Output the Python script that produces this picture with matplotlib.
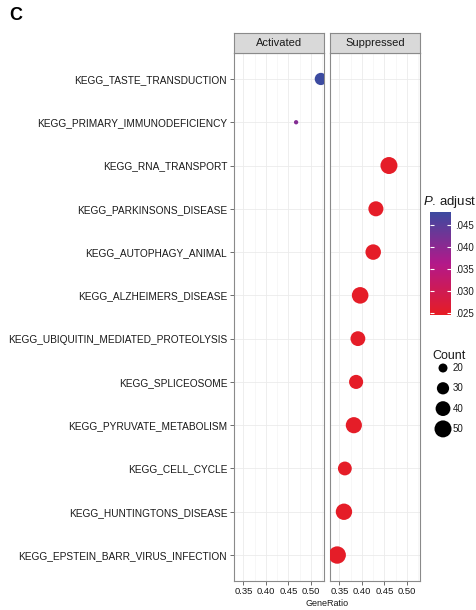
import matplotlib.pyplot as plt
import numpy as np
from matplotlib.colors import LinearSegmentedColormap, Normalize

plt.rcParams['font.family'] = ['Liberation Sans', 'DejaVu Sans']
plt.rcParams['mathtext.fontset'] = 'custom'
plt.rcParams['mathtext.it'] = 'Liberation Sans:italic'
plt.rcParams['mathtext.rm'] = 'Liberation Sans'

# KEGG pathways, top to bottom
pathways = [
    'KEGG_TASTE_TRANSDUCTION',
    'KEGG_PRIMARY_IMMUNODEFICIENCY',
    'KEGG_RNA_TRANSPORT',
    'KEGG_PARKINSONS_DISEASE',
    'KEGG_AUTOPHAGY_ANIMAL',
    'KEGG_ALZHEIMERS_DISEASE',
    'KEGG_UBIQUITIN_MEDIATED_PROTEOLYSIS',
    'KEGG_SPLICEOSOME',
    'KEGG_PYRUVATE_METABOLISM',
    'KEGG_CELL_CYCLE',
    'KEGG_HUNTINGTONS_DISEASE',
    'KEGG_EPSTEIN_BARR_VIRUS_INFECTION',
]
groups = ['Activated', 'Activated'] + ['Suppressed'] * 10
gene_ratio = [0.522, 0.467, 0.460, 0.431, 0.425, 0.396, 0.391, 0.387,
              0.382, 0.362, 0.360, 0.345]
counts = [30, 11, 50, 41, 43, 48, 40, 37, 46, 36, 47, 52]
p_adjust = [0.048, 0.041, 0.025, 0.025, 0.025, 0.025, 0.025, 0.025,
            0.025, 0.025, 0.025, 0.025]

facets = ['Activated', 'Suppressed']
x_ticks = [0.35, 0.40, 0.45, 0.50]
x_minor = [0.375, 0.425, 0.475, 0.525]
cbar_ticks = [0.025, 0.030, 0.035, 0.040, 0.045]
cbar_labels = ['.025', '.030', '.035', '.040', '.045']
legend_counts = [20, 30, 40, 50]

W, H = 477, 610
p_min, p_max = 0.0245, 0.048
cmap = LinearSegmentedColormap.from_list(
    'padj', ['#E71D24', '#B3198A', '#3C4BA0'])
norm = Normalize(vmin=p_min, vmax=p_max)
text_col = '#1a1a1a'
border = '#8A8A8A'


def box(x0, y0, x1, y1):
    # pixel box -> figure fraction rect
    return [x0 / W, 1 - y1 / H, (x1 - x0) / W, (y1 - y0) / H]


def dot_area(n):
    return 0.518 * (6.93 * np.asarray(n, dtype=float) - 57.7)


fig = plt.figure(figsize=(W / 100, H / 100), dpi=100)

n = len(pathways)
ypos = np.arange(n, 0, -1)

for i, (facet, left) in enumerate(zip(facets, [234, 330])):
    ax = fig.add_axes(box(left, 53, left + 90, 581))
    sel = [k for k in range(n) if groups[k] == facet]
    ax.scatter([gene_ratio[k] for k in sel], [ypos[k] for k in sel],
               s=dot_area([counts[k] for k in sel]),
               c=[p_adjust[k] for k in sel], cmap=cmap, norm=norm,
               linewidths=0, zorder=3)
    ax.set_xlim(0.329, 0.529)
    ax.set_ylim(0.4, n + 0.6)
    ax.set_xticks(x_ticks)
    ax.set_xticks(x_minor, minor=True)
    ax.set_xticklabels(['%.2f' % t for t in x_ticks])
    ax.set_yticks(ypos)
    ax.grid(which='major', color='#EBEBEB', linewidth=0.6)
    ax.grid(which='minor', axis='x', color='#F2F2F2', linewidth=0.4)
    ax.set_axisbelow(True)
    for sp in ax.spines.values():
        sp.set_color(border)
        sp.set_linewidth(0.8)
    ax.tick_params(axis='both', length=2.9, width=0.6, color='#555555',
                   labelcolor=text_col, pad=2)
    ax.tick_params(axis='x', labelsize=6.8, pad=1.5)
    ax.tick_params(which='minor', length=0)
    if i == 0:
        ax.set_yticklabels(pathways, fontsize=7.3)
    else:
        ax.tick_params(axis='y', left=False, labelleft=False)

    strip = fig.add_axes(box(left, 33, left + 90, 53))
    strip.set_facecolor('#D9D9D9')
    strip.set_xticks([])
    strip.set_yticks([])
    for sp in strip.spines.values():
        sp.set_color(border)
        sp.set_linewidth(0.8)
    strip.text(0.5, 0.5, facet, ha='center', va='center', fontsize=8,
               color=text_col, transform=strip.transAxes)

fig.text(327 / W, 1 - 603 / H, 'GeneRatio', ha='center', va='center',
         fontsize=6.5, color=text_col)
fig.text(9 / W, 1 - 16 / H, 'C', ha='left', va='center', fontsize=13,
         fontweight='bold', color='black')

# colour bar for p.adjust
cax = fig.add_axes(box(430, 212, 451, 315))
grad = np.linspace(p_min, p_max, 256)[:, None]
cax.imshow(grad, origin='lower', extent=[0, 1, p_min, p_max],
           aspect='auto', cmap=cmap, norm=norm)
cax.set_xlim(0, 1)
cax.set_ylim(p_min, p_max)
cax.set_xticks([])
cax.yaxis.tick_right()
cax.set_yticks(cbar_ticks)
cax.set_yticklabels(cbar_labels)
cax.tick_params(axis='y', length=0, pad=3, labelsize=7,
                labelcolor=text_col)
cax.hlines(cbar_ticks, 0, 0.2, color='white', linewidth=0.8)
cax.hlines(cbar_ticks, 0.8, 1, color='white', linewidth=0.8)
for sp in cax.spines.values():
    sp.set_visible(False)
fig.text(423 / W, 1 - 202 / H, r'$\mathit{P}$. adjust', ha='left',
         va='center', fontsize=9.5, color=text_col)

# size legend for Count
lax = fig.add_axes([0, 0, 1, 1], facecolor='none')
lax.set_xlim(0, W)
lax.set_ylim(H, 0)
lax.axis('off')
fig.text(432 / W, 1 - 356 / H, 'Count', ha='left', va='center',
         fontsize=9, color=text_col)
leg_y = 368 + 20.3 * np.arange(len(legend_counts))
lax.scatter([443] * len(legend_counts), leg_y, s=dot_area(legend_counts),
            color='black', linewidths=0)
for cnt, yy in zip(legend_counts, leg_y):
    lax.text(453, yy, str(cnt), ha='left', va='center', fontsize=7,
             color=text_col)

fig.savefig('out.png', dpi=100)
